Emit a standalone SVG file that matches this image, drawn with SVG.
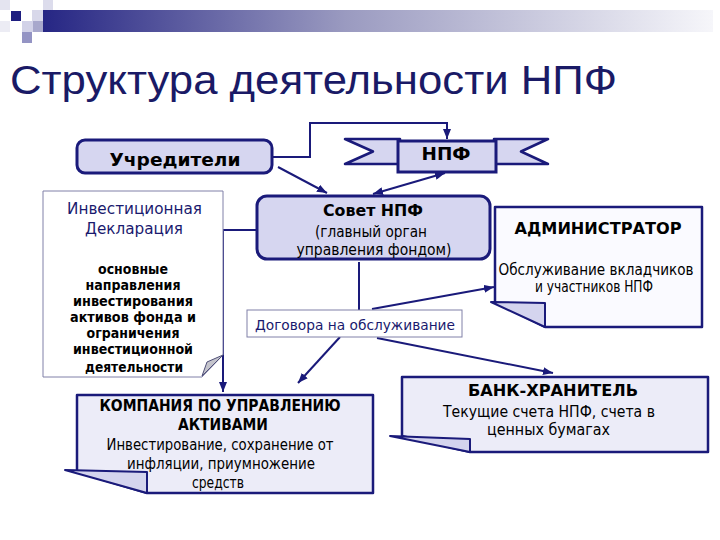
<svg xmlns="http://www.w3.org/2000/svg" width="720" height="540" viewBox="0 0 720 540">
<defs>
<linearGradient id="bar" x1="0" y1="0" x2="1" y2="0">
<stop offset="0" stop-color="#262684"/>
<stop offset="0.45" stop-color="#9a9ac0"/>
<stop offset="1" stop-color="#f6f6fa"/>
</linearGradient>
<marker id="ah" viewBox="0 0 10 8" refX="10" refY="4" markerWidth="10" markerHeight="8" markerUnits="userSpaceOnUse" orient="auto-start-reverse">
<path d="M0,0 L10,4 L0,8 Z" fill="#1a1a7a"/>
</marker>
<style>
.t{font-family:"DejaVu Sans","Liberation Sans",sans-serif;text-anchor:middle;fill:#000}
.b{font-weight:bold}
.nv{fill:#1a1a6e}
.box{stroke:#1a1a7a;stroke-width:2.5;stroke-linejoin:round}
.rb{fill:#d6d6f0;stroke:#1a1a7a;stroke-width:3}
.flap{fill:#d4d4ee;stroke:#1a1a7a;stroke-width:2;stroke-linejoin:round}
.thin{fill:#fff;stroke:#8080a8;stroke-width:1}
.c{fill:none;stroke:#1a1a7a;stroke-width:2}
</style>
</defs>
<rect width="720" height="540" fill="#fff"/>
<!-- header decoration -->
<rect x="43" y="10" width="670" height="22" fill="url(#bar)"/>
<rect x="0" y="0" width="10" height="10" fill="#e4e4f0"/>
<rect x="43" y="0" width="10" height="10" fill="#dcdcec"/>
<rect x="11" y="11" width="10" height="10" fill="#1e1e80"/>
<rect x="0" y="21" width="10" height="11" fill="#ececf4"/>
<rect x="32" y="10" width="11" height="11" fill="#d8d8ea"/>
<rect x="22" y="21" width="11" height="11" fill="#d2d2e8"/>
<rect x="33" y="21" width="10" height="11" fill="#a8a8cc"/>
<rect x="22" y="32" width="10" height="11" fill="#9494c4"/>
<text x="10" y="94" font-family="'Liberation Sans',Arial,sans-serif" font-size="41" fill="#1a1a66" textLength="607" lengthAdjust="spacingAndGlyphs">Структура деятельности НПФ</text>

<g id="connectors">
<polyline class="c" points="273,157 310,157 310,123 447,123 447,139" marker-end="url(#ah)"/>
<line class="c" x1="278" y1="167" x2="327" y2="193" marker-end="url(#ah)"/>
<line class="c" x1="373" y1="194" x2="445" y2="173" marker-start="url(#ah)" marker-end="url(#ah)"/>
<polyline class="c" points="257,230 223,230 223,392" marker-end="url(#ah)"/>
<line class="c" x1="359" y1="262" x2="359" y2="310"/>
<line class="c" x1="372" y1="309" x2="494" y2="287" marker-end="url(#ah)"/>
<line class="c" x1="340" y1="337" x2="298" y2="383" marker-end="url(#ah)"/>
<line class="c" x1="377" y1="338" x2="553" y2="373" marker-end="url(#ah)"/>
</g>

<g id="uchrediteli">
<rect class="rb" x="77" y="140" width="195" height="33" rx="8"/>
<text class="t b" x="175" y="166" font-size="18" textLength="131" lengthAdjust="spacingAndGlyphs">Учредители</text>
</g>

<g id="npf">
<polygon points="345,139 400,139 400,164 345,164 373,151.5" fill="#d6d6f0" stroke="#1a1a7a" stroke-width="2.5" stroke-linejoin="round"/>
<polygon points="548,139 494,139 494,164 548,164 521,151.5" fill="#d6d6f0" stroke="#1a1a7a" stroke-width="2.5" stroke-linejoin="round"/>
<rect x="398" y="141" width="98" height="31" fill="#d6d6f0" stroke="#1a1a7a" stroke-width="3"/>
<text class="t b" x="446" y="160" font-size="17" textLength="49" lengthAdjust="spacingAndGlyphs">НПФ</text>
</g>

<g id="sovet">
<rect class="rb" x="257" y="196" width="233" height="63" rx="10"/>
<text class="t b" x="373" y="216" font-size="16" textLength="100" lengthAdjust="spacingAndGlyphs">Совет НПФ</text>
<text class="t" x="371" y="237" font-size="15" textLength="112" lengthAdjust="spacingAndGlyphs">(главный орган</text>
<text class="t" x="374" y="255" font-size="15" textLength="155" lengthAdjust="spacingAndGlyphs">управления фондом)</text>
</g>

<g id="declaration">
<polygon class="thin" points="43,191 223,191 223,355 202,377 43,377"/>
<polygon points="202,376 207,362 223,355" fill="#c4c4cc" stroke="#505078" stroke-width="1"/>
<text class="t nv" x="134.5" y="214" font-size="16.5" textLength="135" lengthAdjust="spacingAndGlyphs">Инвестиционная</text>
<text class="t nv" x="134" y="234" font-size="16.5" textLength="98" lengthAdjust="spacingAndGlyphs">Декларация</text>
<text class="t b" x="133" y="274" font-size="13.5" textLength="70" lengthAdjust="spacingAndGlyphs">основные</text>
<text class="t b" x="133" y="290" font-size="13.5" textLength="95" lengthAdjust="spacingAndGlyphs">направления</text>
<text class="t b" x="133" y="306" font-size="13.5" textLength="120" lengthAdjust="spacingAndGlyphs">инвестирования</text>
<text class="t b" x="133" y="322" font-size="13.5" textLength="126" lengthAdjust="spacingAndGlyphs">активов фонда и</text>
<text class="t b" x="133" y="338" font-size="13.5" textLength="93" lengthAdjust="spacingAndGlyphs">ограничения</text>
<text class="t b" x="133" y="354" font-size="13.5" textLength="120" lengthAdjust="spacingAndGlyphs">инвестиционной</text>
<text class="t b" x="134" y="372" font-size="13.5" textLength="98" lengthAdjust="spacingAndGlyphs">деятельности</text>
</g>

<g id="dogovora">
<rect class="thin" x="247" y="310" width="215" height="27"/>
<text class="t nv" x="355" y="330" font-size="14.5" textLength="200" lengthAdjust="spacingAndGlyphs">Договора на обслуживание</text>
</g>

<g id="administrator">
<polygon class="box" fill="#fafaff" points="495,207 702,207 702,327 545,327 495,302"/>
<polygon class="flap" points="491,302 545,303 545,327"/>
<text class="t b" x="598" y="234" font-size="16" textLength="167" lengthAdjust="spacingAndGlyphs">АДМИНИСТРАТОР</text>
<text class="t" x="596" y="275" font-size="15" textLength="195" lengthAdjust="spacingAndGlyphs">Обслуживание вкладчиков</text>
<text class="t" x="594" y="292" font-size="15" textLength="118" lengthAdjust="spacingAndGlyphs">и участников НПФ</text>
</g>

<g id="kompaniya">
<polygon class="box" fill="#ececf8" points="77,395 373,395 373,493 147,493 77,472"/>
<polygon class="flap" points="65,470 147,472 147,493"/>
<text class="t b" x="220" y="411" font-size="16" textLength="241" lengthAdjust="spacingAndGlyphs">КОМПАНИЯ ПО УПРАВЛЕНИЮ</text>
<text class="t b" x="223" y="430" font-size="16" textLength="90" lengthAdjust="spacingAndGlyphs">АКТИВАМИ</text>
<text class="t" x="220" y="450" font-size="15" textLength="227" lengthAdjust="spacingAndGlyphs">Инвестирование, сохранение от</text>
<text class="t" x="221" y="469" font-size="15" textLength="188" lengthAdjust="spacingAndGlyphs">инфляции, приумножение</text>
<text class="t" x="218" y="488" font-size="15" textLength="52" lengthAdjust="spacingAndGlyphs">средств</text>
</g>

<g id="bank">
<polygon class="box" fill="#ececf8" points="402,377 708,377 708,452 470,452 402,436"/>
<polygon class="flap" points="390,436 470,439 470,452"/>
<text class="t b" x="553" y="396" font-size="16" textLength="170" lengthAdjust="spacingAndGlyphs">БАНК-ХРАНИТЕЛЬ</text>
<text class="t" x="549" y="417" font-size="15" textLength="212" lengthAdjust="spacingAndGlyphs">Текущие счета НПФ, счета в</text>
<text class="t" x="548.5" y="435" font-size="15" textLength="123" lengthAdjust="spacingAndGlyphs">ценных бумагах</text>
</g>
</svg>
